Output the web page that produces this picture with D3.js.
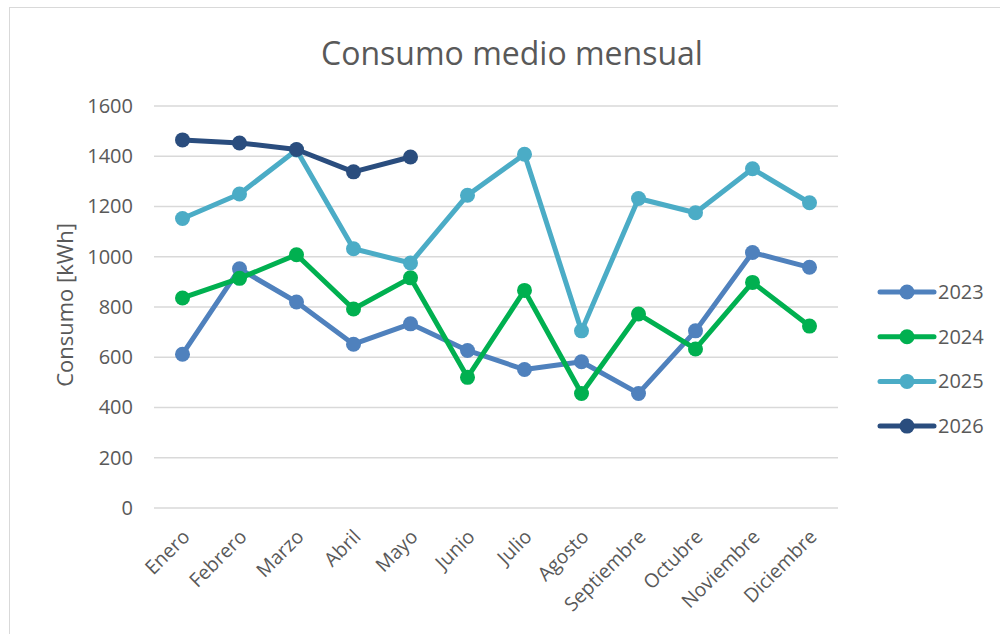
<!DOCTYPE html>
<html>
<head>
<meta charset="utf-8">
<script src="https://cdn.jsdelivr.net/npm/d3@7"></script>
<style>
  body { margin: 0; background: #fff; }
  text { font-family: "Open Sans", sans-serif; fill: #595959; }
</style>
</head>
<body>
<div id="chart"></div>
<script>
var months = ["Enero", "Febrero", "Marzo", "Abril", "Mayo", "Junio", "Julio",
  "Agosto", "Septiembre", "Octubre", "Noviembre", "Diciembre"]
var years = ["2023", "2024", "2025", "2026"]
var yTicks = [0, 200, 400, 600, 800, 1000, 1200, 1400, 1600]

var v2023 = [612, 952, 820, 652, 733, 627, 551, 582, 456, 705, 1017, 958]
var v2024 = [836, 914, 1008, 792, 916, 520, 866, 456, 772, 633, 898, 724]
var v2025 = [1152, 1250, 1425, 1032, 975, 1245, 1408, 705, 1232, 1175, 1350, 1215]
var v2026 = [1465, 1453, 1427, 1338, 1397]

var colors = ["#4f81bd", "#00b050", "#4bacc6", "#2a4d7e"]

var series = [v2023, v2024, v2025, v2026].map(function (vals, i) {
  return { name: years[i], color: colors[i], values: vals.map(function (v, j) { return { m: months[j], v: v } }) }
})

var width = 1000, height = 634
var svg = d3.select("#chart").append("svg").attr("width", width).attr("height", height)

// chart frame
svg.append("rect")
  .attr("x", 9.5).attr("y", 7.5)
  .attr("width", 1000).attr("height", 700)
  .attr("fill", "none").attr("stroke", "#d9d9d9")

var x = d3.scalePoint().domain(months).range([154, 838]).padding(0.5)
var y = d3.scaleLinear().domain([0, 1600]).range([508, 106])

// gridlines
svg.append("g")
  .selectAll("line")
  .data(yTicks)
  .enter().append("line")
    .attr("x1", 154).attr("x2", 838)
    .attr("y1", function (d) { return y(d) })
    .attr("y2", function (d) { return y(d) })
    .attr("stroke", "#d9d9d9").attr("stroke-width", 1.3)

// y axis labels
var yAxis = svg.append("g")
  .attr("transform", "translate(140,0)")
  .call(d3.axisLeft(y).tickValues(yTicks).tickFormat(d3.format("d")).tickSize(0).tickPadding(7))
yAxis.select(".domain").remove()
yAxis.selectAll("text").attr("font-size", 20).attr("fill", "#595959")
  .style("font-family", "'Open Sans', sans-serif")

// x axis labels
var xAxis = svg.append("g")
  .attr("transform", "translate(0,508)")
  .call(d3.axisBottom(x).tickSize(0).tickPadding(0))
xAxis.select(".domain").remove()
xAxis.selectAll("text")
  .attr("font-size", 19.5).attr("fill", "#595959")
  .style("font-family", "'Open Sans', sans-serif")
  .attr("text-anchor", "end")
  .attr("dy", 0).attr("y", 0)
  .attr("transform", "translate(8,30) rotate(-45)")

// titles
svg.append("text")
  .attr("x", 512).attr("y", 65)
  .attr("text-anchor", "middle")
  .attr("font-size", 32)
  .text("Consumo medio mensual")

svg.append("text")
  .attr("transform", "translate(73,305) rotate(-90)")
  .attr("text-anchor", "middle")
  .attr("font-size", 22)
  .text("Consumo [kWh]")

// lines and markers
var line = d3.line()
  .x(function (d) { return x(d.m) })
  .y(function (d) { return y(d.v) })

var groups = svg.append("g").selectAll("g")
  .data(series)
  .enter().append("g")

groups.append("path")
  .attr("d", function (s) { return line(s.values) })
  .attr("fill", "none")
  .attr("stroke", function (s) { return s.color })
  .attr("stroke-width", 5)
  .attr("stroke-linejoin", "round")
  .attr("stroke-linecap", "round")

groups.selectAll("circle")
  .data(function (s) { return s.values.map(function (d) { return { m: d.m, v: d.v, color: s.color } }) })
  .enter().append("circle")
    .attr("cx", function (d) { return x(d.m) })
    .attr("cy", function (d) { return y(d.v) })
    .attr("r", 7.5)
    .attr("fill", function (d) { return d.color })

// legend
var legend = svg.append("g").selectAll("g")
  .data(series)
  .enter().append("g")
    .attr("transform", function (s, i) { return "translate(880," + (292 + i * 44.7) + ")" })

legend.append("line")
  .attr("x1", 0).attr("x2", 54)
  .attr("stroke", function (s) { return s.color })
  .attr("stroke-width", 5)
  .attr("stroke-linecap", "round")
legend.append("circle")
  .attr("cx", 27).attr("r", 7.5)
  .attr("fill", function (s) { return s.color })
legend.append("text")
  .attr("x", 58).attr("dy", "0.35em")
  .attr("font-size", 20)
  .text(function (s) { return s.name })
</script>
</body>
</html>
